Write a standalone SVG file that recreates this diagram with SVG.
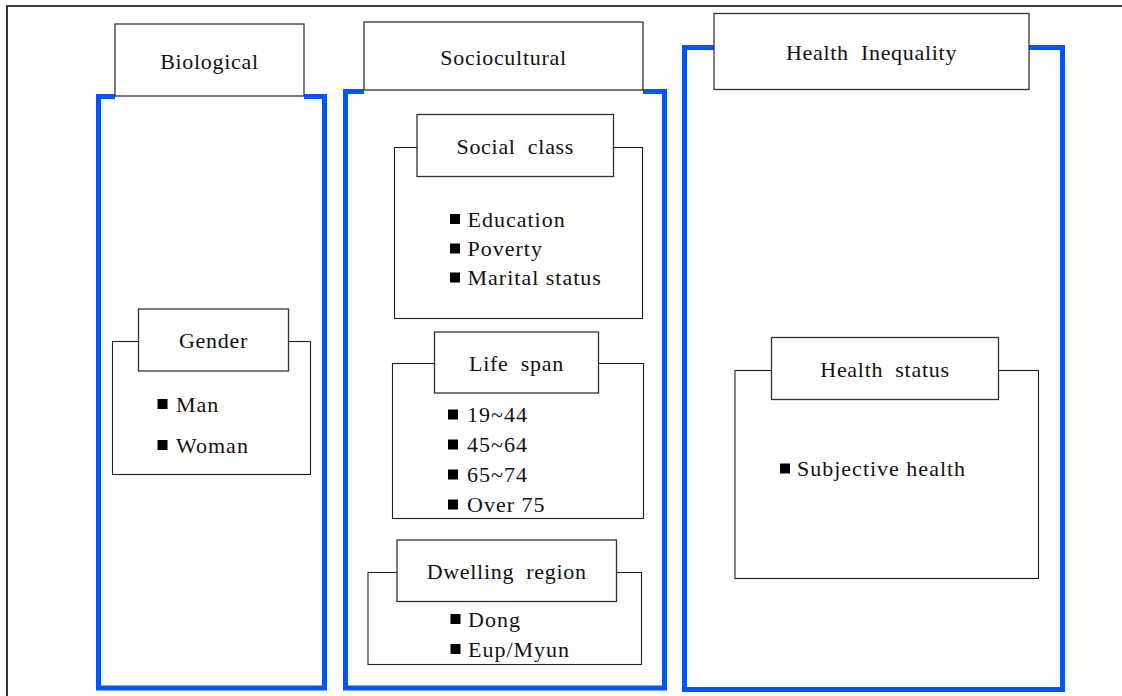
<svg xmlns="http://www.w3.org/2000/svg" width="1122" height="696" viewBox="0 0 1122 696">
<defs>
<style>
.page{fill:none;stroke:#000;stroke-width:1.6}
.col{fill:none;stroke:#0055ff;stroke-width:5;stroke-linejoin:miter}
.hdr{fill:#fff;stroke:#333;stroke-width:1.3}
.box{fill:#fff;stroke:#222;stroke-width:1.1}
.t{font-family:"Liberation Serif","Times New Roman",serif;font-size:22px;fill:#111;letter-spacing:1px}
.h{text-anchor:middle;letter-spacing:0.7px;word-spacing:6px}
.b{fill:#000}
</style>
</defs>
<rect width="1122" height="696" fill="#fff"/>
<path class="page" d="M7,696 V6 H1122"/>
<g id="connectors"/>

<g id="biological">
<path class="col" d="M115,96.5 H98.5 V688 H324.5 V96.5 H304"/>
<rect class="hdr" x="115" y="24" width="189" height="72"/>
<text class="t h" x="209.5" y="69">Biological</text>
</g>

<g id="gender">
<rect class="box" x="112.5" y="341.5" width="198" height="133"/>
<rect class="hdr" x="138.5" y="309" width="150" height="62"/>
<text class="t h" x="213.5" y="348">Gender</text>
<rect class="b" x="157.5" y="399" width="10" height="10"/>
<text class="t" x="176" y="411.5">Man</text>
<rect class="b" x="157.5" y="440" width="10" height="10"/>
<text class="t" x="176" y="452.5">Woman</text>
</g>

<g id="sociocultural">
<path class="col" d="M364,91.5 H345.5 V688 H664.5 V91.5 H643"/>
<rect class="hdr" x="364" y="22" width="279" height="68"/>
<text class="t h" x="503.5" y="65">Sociocultural</text>
</g>

<g id="social-class">
<rect class="box" x="394.5" y="147.5" width="248" height="171"/>
<rect class="hdr" x="417" y="114.5" width="196.5" height="62"/>
<text class="t h" x="515.3" y="154">Social class</text>
<rect class="b" x="450" y="214" width="10" height="10"/>
<text class="t" x="467.5" y="226.5">Education</text>
<rect class="b" x="450" y="243.5" width="10" height="10"/>
<text class="t" x="467.5" y="256">Poverty</text>
<rect class="b" x="450" y="272.5" width="10" height="10"/>
<text class="t" x="467.5" y="285">Marital status</text>
</g>

<g id="life-span">
<rect class="box" x="392.5" y="363.5" width="251" height="155"/>
<rect class="hdr" x="434.5" y="332" width="164" height="61"/>
<text class="t h" x="516.5" y="370.5">Life span</text>
<rect class="b" x="448" y="409.5" width="10" height="10"/>
<text class="t" x="467" y="422">19~44</text>
<rect class="b" x="448" y="439.5" width="10" height="10"/>
<text class="t" x="467" y="452">45~64</text>
<rect class="b" x="448" y="469.5" width="10" height="10"/>
<text class="t" x="467" y="482">65~74</text>
<rect class="b" x="448" y="499.5" width="10" height="10"/>
<text class="t" x="467" y="512">Over 75</text>
</g>

<g id="dwelling-region">
<rect class="box" x="368" y="572.5" width="273.5" height="92"/>
<rect class="hdr" x="397" y="540" width="219.5" height="61.5"/>
<text class="t h" x="506.7" y="579.3">Dwelling region</text>
<rect class="b" x="450.5" y="614" width="10" height="10"/>
<text class="t" x="468" y="626.5">Dong</text>
<rect class="b" x="450.5" y="644" width="10" height="10"/>
<text class="t" x="468" y="656.5">Eup/Myun</text>
</g>

<g id="health-inequality">
<path class="col" d="M714,47.5 H684.5 V689.5 H1062.5 V47.5 H1029"/>
<rect class="hdr" x="714" y="13.5" width="315" height="76"/>
<text class="t h" x="871.5" y="60">Health Inequality</text>
</g>

<g id="health-status">
<rect class="box" x="735" y="370.5" width="303.5" height="208"/>
<rect class="hdr" x="771.5" y="337.5" width="227" height="62"/>
<text class="t h" x="885" y="377.3">Health status</text>
<rect class="b" x="780" y="463.5" width="10" height="10"/>
<text class="t" x="797" y="476">Subjective health</text>
</g>
</svg>
